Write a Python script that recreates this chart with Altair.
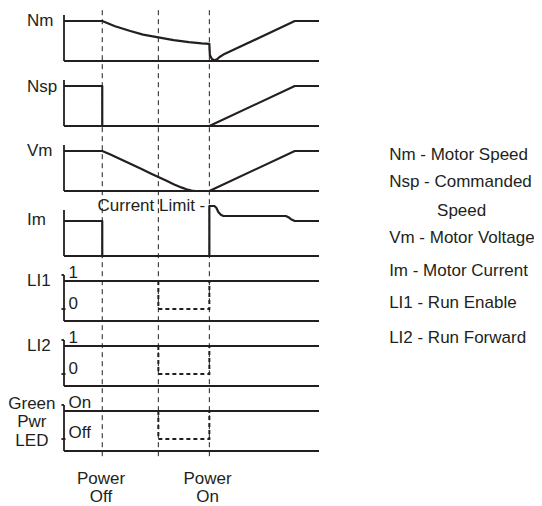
import altair as alt
import pandas as pd

# ---- time base (arbitrary units, 0 = start of traces) ----
T_OFF, T_MID, T_ON, T_END = 15, 37, 57, 100

# ---- signal names, stacked top to bottom ----
signals = ["Nm", "Nsp", "Vm", "Im", "LI1", "LI2", "LED"]
ROW_PITCH = 1.625          # vertical distance between trace baselines (level units)
AXIS_TOP = 1.15

# ---- trace values (time, level) ----
nm_t = [0, 15, 20, 26, 31, 37, 43, 49, 54, 57, 57.2, 58, 59, 60, 61, 62.5, 90.5, 100]
nm_v = [1.0, 1.0, 0.87, 0.75, 0.66, 0.59, 0.52, 0.47, 0.44, 0.43, 0.15, 0.05, 0.02, 0.04, 0.1, 0.16, 1.0, 1.0]

nsp_t = [0, 15, 15, 57, 90.5, 100]
nsp_v = [1.0, 1.0, 0.0, 0.0, 1.0, 1.0]

vm_t = [0, 15, 18, 22, 26, 30, 34, 37, 40, 43, 46, 48, 50, 51.5, 57, 90.5, 100]
vm_v = [1.0, 1.0, 0.92, 0.8, 0.68, 0.56, 0.44, 0.35, 0.26, 0.17, 0.09, 0.045, 0.012, 0.0, 0.0, 1.0, 1.0]

im_t = [0, 15, 15, 57, 57, 59, 59.8, 60.5, 61.5, 62.5, 87, 88, 89, 90.5, 100]
im_v = [0.875, 0.875, 0.0, 0.0, 1.25, 1.25, 1.2, 1.1, 1.03, 1.0, 1.0, 0.97, 0.92, 0.875, 0.875]

digital_t = [0, 100]
digital_v = [1.0, 1.0]
digital_alt_t = [37, 37, 57, 57]
digital_alt_v = [1.0, 0.3, 0.3, 1.0]

traces = {
    "Nm": (nm_t, nm_v),
    "Nsp": (nsp_t, nsp_v),
    "Vm": (vm_t, vm_v),
    "Im": (im_t, im_v),
    "LI1": (digital_t, digital_v),
    "LI2": (digital_t, digital_v),
    "LED": (digital_t, digital_v),
}
digital = ["LI1", "LI2", "LED"]

# ---- text ----
left_labels = ["Nm", "Nsp", "Vm", "Im", "LI1", "LI2"]
left_label_level = [1.0, 0.98, 1.0, 0.9, 1.0, 1.0]
led_label_lines = ["Green", "Pwr", "LED"]
led_label_level = [1.17, 0.72, 0.24]
state_labels = [("LI1", "1", 1.2), ("LI1", "0", 0.42), ("LI2", "1", 1.2), ("LI2", "0", 0.42),
                ("LED", "On", 1.2), ("LED", "Off", 0.44)]
legend_lines = ["Nm - Motor Speed", "Nsp - Commanded", "Speed", "Vm - Motor Voltage",
                "Im - Motor Current", "LI1 - Run Enable", "LI2 - Run Forward"]
legend_y = [-2.35, -3.025, -3.75, -4.425, -5.25, -6.05, -6.925]
legend_x = [127.5, 127.5, 146.3, 127.5, 127.5, 127.5, 127.5]
event_labels = [("Power", "Off", T_OFF - 0.5), ("Power", "On", T_ON - 0.7)]

INK = "#231f20"
FONT = "Liberation Sans"
FS = 17


def base(sig):
    return -signals.index(sig) * ROW_PITCH


rows = []
for sig, (ts, vs) in traces.items():
    for i, (t, v) in enumerate(zip(ts, vs)):
        rows.append({"sig": sig, "i": i, "t": t, "y": base(sig) + v})
df_tr = pd.DataFrame(rows)

rows = []
for sig in digital:
    for i, (t, v) in enumerate(zip(digital_alt_t, digital_alt_v)):
        rows.append({"sig": sig, "i": i, "t": t, "y": base(sig) + v})
df_alt = pd.DataFrame(rows)

df_axes = pd.DataFrame(
    [{"t": 0, "t2": T_END, "y": base(s), "y2": base(s)} for s in signals]
    + [{"t": 0, "t2": 0, "y": base(s), "y2": base(s) + AXIS_TOP} for s in signals]
    + [{"t": -1.0, "t2": 0, "y": base(s) + AXIS_TOP, "y2": base(s) + AXIS_TOP} for s in digital]
    + [{"t": -1.0, "t2": 0.6, "y": base(s) + 0.3, "y2": base(s) + 0.3} for s in digital]
)

df_guides = pd.DataFrame({"t": [T_OFF, T_MID, T_ON], "y": [1.27] * 3, "y2": [-9.98] * 3})

df_left = pd.DataFrame({"t": [-14.5] * len(left_labels),
                        "y": [base(s) + lv for s, lv in zip(left_labels, left_label_level)],
                        "text": left_labels})
df_led = pd.DataFrame({"t": [-12.6] * 3,
                       "y": [base("LED") + lv for lv in led_label_level],
                       "text": led_label_lines})
df_state = pd.DataFrame({"t": [1.8] * len(state_labels),
                         "y": [base(s) + lv for s, _, lv in state_labels],
                         "text": [txt for _, txt, _ in state_labels]})
df_legend = pd.DataFrame({"t": legend_x, "y": legend_y, "text": legend_lines})
df_events = pd.DataFrame(
    [{"t": t, "y": -10.45, "text": a} for a, b, t in event_labels]
    + [{"t": t, "y": -10.9, "text": b} for a, b, t in event_labels]
)
df_climit = pd.DataFrame({"t": [55.4], "y": [base("Im") + 1.25], "text": ["Current Limit -"]})

xs = alt.Scale(domain=[-21.96, 184.31], nice=False, zero=False)
ys = alt.Scale(domain=[-11.125, 1.325], nice=False, zero=False)
X = lambda f="t": alt.X(f"{f}:Q", scale=xs, axis=None)
Y = lambda f="y": alt.Y(f"{f}:Q", scale=ys, axis=None)

guides = alt.Chart(df_guides).mark_rule(color=INK, strokeWidth=1, strokeDash=[5, 4]).encode(
    x=X(), y=Y(), y2="y2:Q")
axes = alt.Chart(df_axes).mark_rule(color=INK, strokeWidth=1.8).encode(
    x=X(), x2="t2:Q", y=Y(), y2="y2:Q")
lines = alt.Chart(df_tr).mark_line(color=INK, strokeWidth=2.2, strokeJoin="round").encode(
    x=X(), y=Y(), detail="sig:N", order="i:Q")
alts = alt.Chart(df_alt).mark_line(color=INK, strokeWidth=2, strokeDash=[4, 3]).encode(
    x=X(), y=Y(), detail="sig:N", order="i:Q")


def text_layer(df, align):
    return alt.Chart(df).mark_text(align=align, baseline="middle", font=FONT,
                                   fontSize=FS, color=INK).encode(x=X(), y=Y(), text="text:N")


chart = alt.layer(
    guides, axes, lines, alts,
    text_layer(df_left, "left"),
    text_layer(df_led, "center"),
    text_layer(df_state, "left"),
    text_layer(df_legend, "left"),
    text_layer(df_events, "center"),
    text_layer(df_climit, "right"),
).properties(
    width=526, height=498, autosize=alt.AutoSizeParams(type="none"), padding=0,
    background="white",
).configure_view(stroke=None)

chart.save("out.html", embed_options={"renderer": "svg", "actions": False})
